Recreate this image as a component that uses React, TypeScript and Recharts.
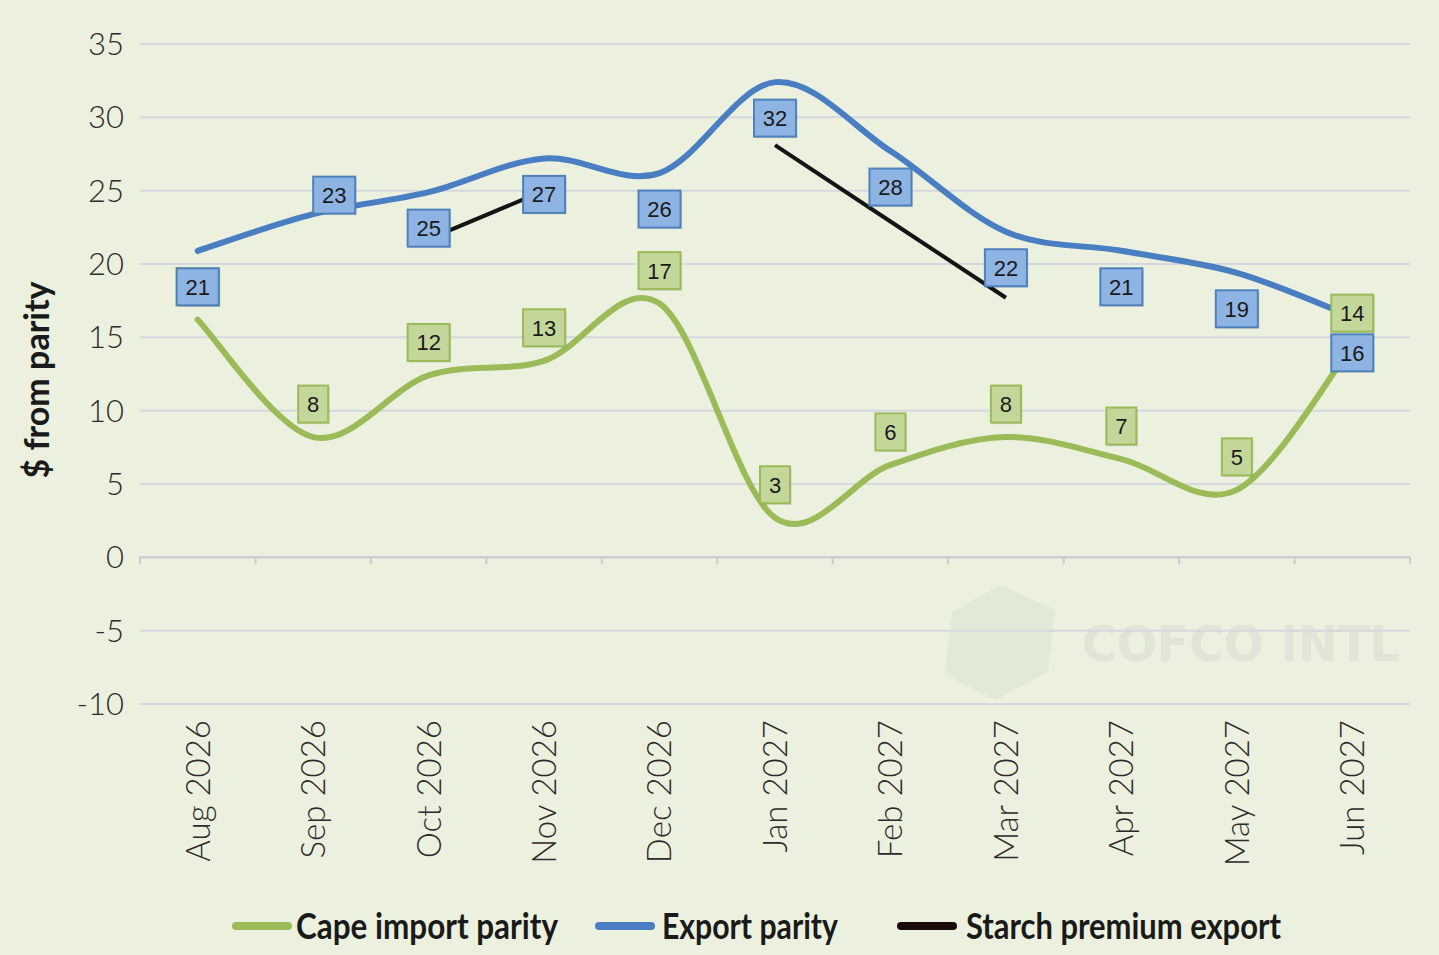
import React from "react";
import {
  LineChart,
  Line,
  XAxis,
  YAxis,
  CartesianGrid,
  ReferenceLine,
  LabelList,
} from "recharts";

const MONTHS = [
  "Aug 2026",
  "Sep 2026",
  "Oct 2026",
  "Nov 2026",
  "Dec 2026",
  "Jan 2027",
  "Feb 2027",
  "Mar 2027",
  "Apr 2027",
  "May 2027",
  "Jun 2027",
];
const CAPE_IMPORT = [16.2, 8.2, 12.4, 13.4, 17.3, 2.7, 6.3, 8.2, 6.7, 4.6, 14.4];
const EXPORT_PARITY = [20.9, 23.4, 24.9, 27.2, 26.2, 32.4, 27.7, 22.2, 20.9, 19.4, 16.4];
const STARCH_PREMIUM = [null, null, 21.7, 25.0, null, 28.1, 22.9, 17.7, null, null, null];
const Y_TICKS = [-10, -5, 0, 5, 10, 15, 20, 25, 30, 35];

// blue labels normally sit under the line; this one was dragged up and right
const EXPORT_LABEL_MOVED: Record<string, [number, number]> = { "Sep 2026": [21, -19] };

const W = 1439;
const H = 955;
const MARGIN = { top: 44, right: 29, bottom: 81, left: 0 };
const Y_AXIS_W = 140;
const X_AXIS_H = 170;
const PLOT_W = W - MARGIN.right - Y_AXIS_W;
const PLOT_H = H - MARGIN.top - MARGIN.bottom - X_AXIS_H;
const BAND = PLOT_W / MONTHS.length;
const Y_MIN = Y_TICKS[0];
const Y_MAX = Y_TICKS[Y_TICKS.length - 1];
const ZERO_Y = MARGIN.top + ((Y_MAX - 0) / (Y_MAX - Y_MIN)) * PLOT_H;

const BG = "#EBF1DE";
const GREEN = "#9BBB59";
const BLUE = "#4A7EC2";
const BLACK = "#141414";
const GRID = "#D5D8DD";
const TICK_FONT = "Lato, 'DejaVu Sans', sans-serif";
const LABEL_FONT = "'Liberation Sans Narrow', 'Liberation Sans', Arial, sans-serif";

const data = MONTHS.map((m, i) => ({
  month: m,
  cape: CAPE_IMPORT[i],
  export: EXPORT_PARITY[i],
  starch: STARCH_PREMIUM[i],
}));

// Excel-like smoothed line (Catmull-Rom style bezier)
function excelSmooth(context: any) {
  let pts: number[][] = [];
  return {
    areaStart() {},
    areaEnd() {},
    lineStart() {
      pts = [];
    },
    point(x: number, y: number) {
      pts.push([+x, +y]);
    },
    lineEnd() {
      const n = pts.length;
      if (!n) return;
      context.moveTo(pts[0][0], pts[0][1]);
      for (let i = 0; i < n - 1; i++) {
        const p0 = pts[Math.max(i - 1, 0)];
        const p1 = pts[i];
        const p2 = pts[i + 1];
        const p3 = pts[Math.min(i + 2, n - 1)];
        context.bezierCurveTo(
          p1[0] + (p2[0] - p0[0]) / 6,
          p1[1] + (p2[1] - p0[1]) / 6,
          p2[0] - (p3[0] - p1[0]) / 6,
          p2[1] - (p3[1] - p1[1]) / 6,
          p2[0],
          p2[1]
        );
      }
    },
  };
}

function makeBoxLabel(fill: string, border: string, offsetFor: (i: number) => [number, number]) {
  return (props: any) => {
    const vb = props.viewBox || {};
    const x = props.x ?? vb.x;
    const y = props.y ?? vb.y;
    if (x == null || y == null || props.value == null) return null;
    const text = String(Math.round(Number(props.value)));
    const w = text.length > 1 ? 42 : 30;
    const h = 37;
    const [dx, dy] = offsetFor(props.index);
    const cx = x + dx;
    const cy = y + dy;
    return (
      <g>
        <rect
          x={cx - w / 2 + 1.5}
          y={cy - h / 2 + 1.5}
          width={w}
          height={h}
          fill="rgba(0,0,0,0.12)"
        />
        <rect
          x={cx - w / 2}
          y={cy - h / 2}
          width={w}
          height={h}
          fill={fill}
          stroke={border}
          strokeWidth={2}
        />
        <text
          x={cx}
          y={cy}
          dy="0.36em"
          textAnchor="middle"
          fontFamily={LABEL_FONT}
          fontSize={22}
          fill="#1a1a1a"
        >
          {text}
        </text>
      </g>
    );
  };
}

const capeLabel = makeBoxLabel("#C4D79B", GREEN, () => [0, -33]);
const exportLabel = makeBoxLabel("#8DB4E2", "#4F81BD", (i) => EXPORT_LABEL_MOVED[MONTHS[i]] ?? [0, 36]);

function MonthTick(props: any) {
  const { x, y, payload, index } = props;
  const left = x - BAND / 2;
  return (
    <g>
      <line x1={left} y1={ZERO_Y} x2={left} y2={ZERO_Y + 7} stroke="#C9CCD2" strokeWidth={2} />
      {index === MONTHS.length - 1 && (
        <line
          x1={x + BAND / 2}
          y1={ZERO_Y}
          x2={x + BAND / 2}
          y2={ZERO_Y + 7}
          stroke="#C9CCD2"
          strokeWidth={2}
        />
      )}
      <text
        transform={`translate(${x},${y + 8}) rotate(-90)`}
        textAnchor="end"
        dy="0.36em"
        fontFamily={TICK_FONT}
        fontWeight={300}
        fontSize={33}
        fill="#2b2b2b"
      >
        {payload.value}
      </text>
    </g>
  );
}

function YLabel(props: any) {
  const vb = props.viewBox || { x: 0, y: MARGIN.top, height: PLOT_H };
  const cx = vb.x + 37;
  const cy = vb.y + vb.height / 2 + 6;
  return (
    <text
      transform={`translate(${cx},${cy}) rotate(-90)`}
      textAnchor="middle"
      dy="0.36em"
      fontFamily={TICK_FONT}
      fontWeight={700}
      fontSize={34}
      fill="#1a1a1a"
    >
      $ from parity
    </text>
  );
}

const LEGEND = [
  { name: "Cape import parity", color: GREEN, x: 232, textX: 296, textW: 262 },
  { name: "Export parity", color: BLUE, x: 595, textX: 662, textW: 176 },
  { name: "Starch premium export", color: "#1a0a0a", x: 897, textX: 966, textW: 315 },
];

export default function App() {
  return (
    <div
      style={{
        position: "absolute",
        left: 0,
        top: 0,
        width: W,
        height: H,
        background: BG,
        overflow: "hidden",
      }}
    >
      <svg
        width={W}
        height={H}
        style={{ position: "absolute", left: 0, top: 0, pointerEvents: "none" }}
      >
        <polygon
          points="1000,585 1055,610 1048,672 995,700 945,675 952,612"
          fill="#dfe8d4"
          opacity={0.8}
        />
        <text
          x={1082}
          y={661}
          textLength={318}
          lengthAdjust="spacingAndGlyphs"
          fontFamily="'DejaVu Sans', sans-serif"
          fontWeight={700}
          fontSize={50}
          fill="#e0e6d7"
        >
          COFCO INTL
        </text>
      </svg>
      <LineChart width={W} height={H} data={data} margin={MARGIN}>
        <CartesianGrid horizontal vertical={false} stroke={GRID} strokeWidth={2} />
        <XAxis
          dataKey="month"
          interval={0}
          height={X_AXIS_H}
          padding={{ left: BAND / 2, right: BAND / 2 }}
          axisLine={false}
          tickLine={false}
          tick={<MonthTick />}
        />
        <YAxis
          width={Y_AXIS_W}
          domain={[Y_MIN, Y_MAX]}
          ticks={Y_TICKS}
          interval={0}
          axisLine={false}
          tickLine={false}
          tickMargin={10}
          tick={{ fontFamily: TICK_FONT, fontWeight: 300, fontSize: 31, fill: "#2b2b2b" }}
          label={<YLabel />}
        />
        <ReferenceLine y={0} stroke="#C9CCD2" strokeWidth={2} />
        <Line
          dataKey="cape"
          type={excelSmooth as any}
          stroke={GREEN}
          strokeWidth={6}
          strokeLinecap="round"
          dot={false}
          activeDot={false}
          isAnimationActive={false}
        />
        <Line
          dataKey="export"
          type={excelSmooth as any}
          stroke={BLUE}
          strokeWidth={6}
          strokeLinecap="round"
          dot={false}
          activeDot={false}
          isAnimationActive={false}
        />
        <Line
          dataKey="starch"
          type="linear"
          stroke={BLACK}
          strokeWidth={4}
          dot={false}
          activeDot={false}
          connectNulls={false}
          isAnimationActive={false}
        />
        <Line
          dataKey="cape"
          stroke="none"
          dot={false}
          activeDot={false}
          isAnimationActive={false}
        >
          <LabelList dataKey="cape" content={capeLabel} />
        </Line>
        <Line
          dataKey="export"
          stroke="none"
          dot={false}
          activeDot={false}
          isAnimationActive={false}
        >
          <LabelList dataKey="export" content={exportLabel} />
        </Line>
      </LineChart>
      <svg
        width={W}
        height={70}
        style={{ position: "absolute", left: 0, top: 890, pointerEvents: "none" }}
      >
        {LEGEND.map((item) => (
          <g key={item.name}>
            <line
              x1={item.x + 4}
              y1={36}
              x2={item.x + 56}
              y2={36}
              stroke={item.color}
              strokeWidth={8}
              strokeLinecap="round"
            />
            <text
              x={item.textX}
              y={49}
              textLength={item.textW}
              lengthAdjust="spacingAndGlyphs"
              fontFamily={TICK_FONT}
              fontWeight={700}
              fontSize={37}
              fill="#1a1a1a"
            >
              {item.name}
            </text>
          </g>
        ))}
      </svg>
    </div>
  );
}
